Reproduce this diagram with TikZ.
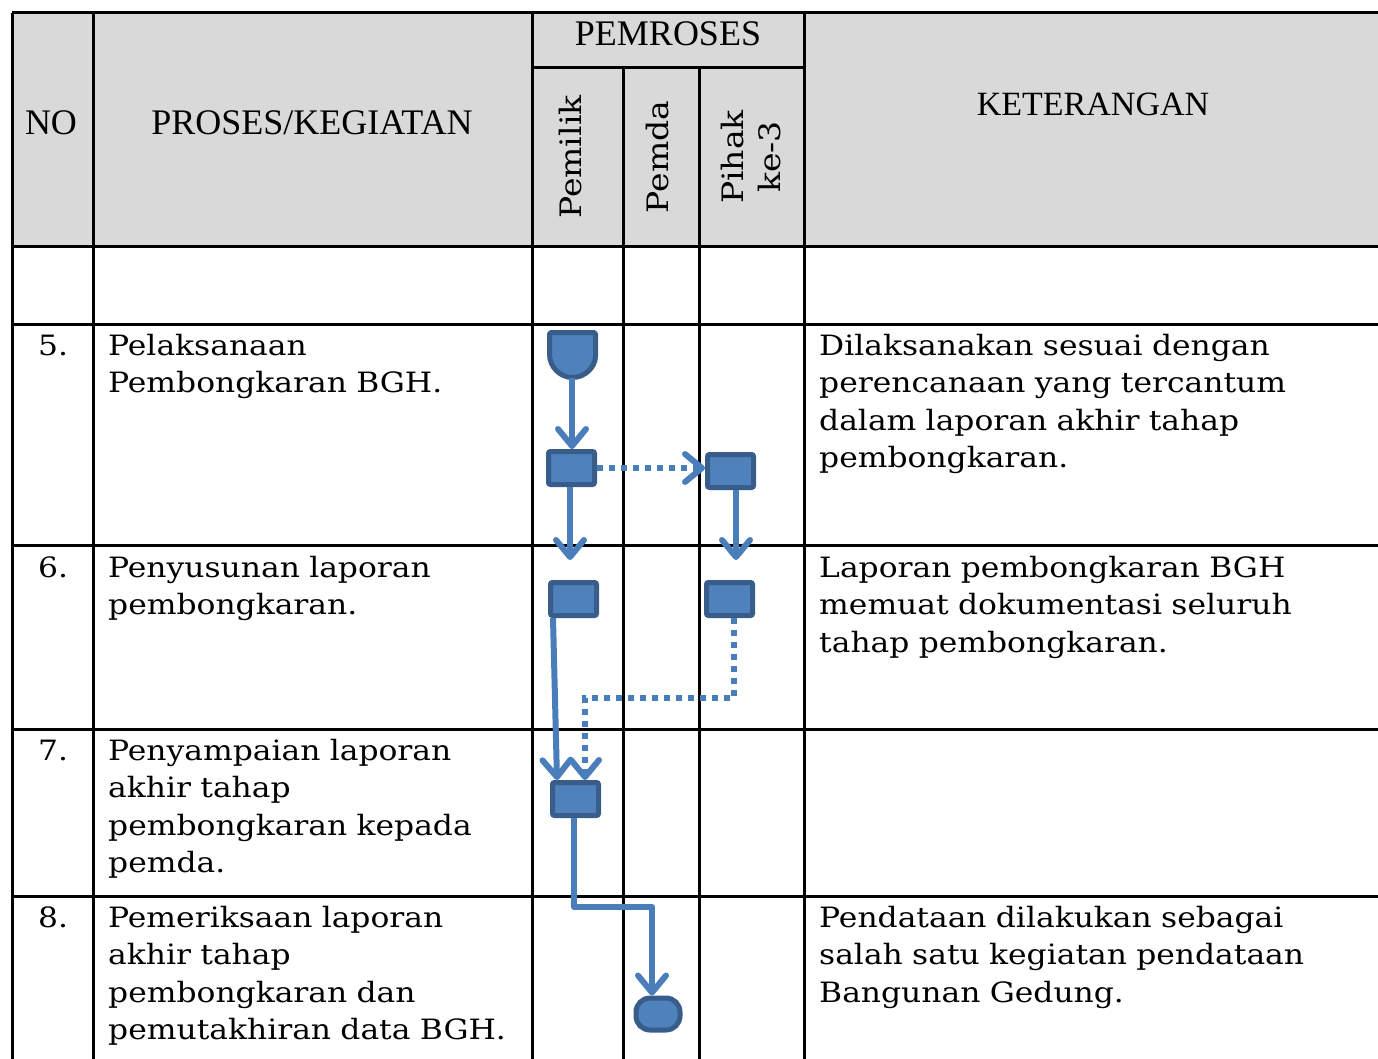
\documentclass[tikz,border=0pt]{standalone}
\usepackage{fontspec}
\setmainfont[FakeStretch=1.12]{DejaVu Serif}
\newfontfamily\hdr{Liberation Serif}
\usetikzlibrary{arrows.meta,calc}
\definecolor{hdrgrey}{HTML}{D9D9D9}
\definecolor{boxfill}{HTML}{4F81BD}
\definecolor{boxline}{HTML}{385D8A}
\definecolor{flow}{HTML}{4A7EBB}
\begin{document}
\begin{tikzpicture}[x=1pt,y=-1pt,
  grid/.style={line width=3pt,black},
  body/.style={inner sep=0pt,anchor=base west,align=left,text width=560pt,font=\fontsize{28}{37.5}\selectfont},
  hcap/.style={inner sep=0pt,font=\hdr\fontsize{36}{40}\selectfont},
  vcap/.style={inner sep=0pt,rotate=90,align=center,font=\fontsize{29.5}{37}\selectfont},
  actbox/.style={draw=boxline,fill=boxfill,line width=5pt,minimum width=46pt,minimum height=33pt,inner sep=0pt,rounded corners=2pt},
  shapefill/.style={draw=boxline,fill=boxfill,line width=5pt,line join=round},
  tipv/.style={-{Straight Barb[length=17pt,width=28pt,round]}},
  solidflow/.style={draw=flow,line width=6pt,line join=round,tipv},
  dotflow/.style={draw=flow,line width=6pt,dash pattern=on 6pt off 6pt,tipv},
  plainflow/.style={draw=flow,line width=6pt,line join=round}]
\useasboundingbox (0,0) rectangle (1378,1059);
% header background
\fill[hdrgrey] (12,13) rectangle (1378,247);
% grid
\draw[grid] (12,13) -- (1378,13);
\draw[grid] (532,68) -- (804,68);
\foreach \yy in {247,324,545,729,896} \draw[grid] (12,\yy) -- (1378,\yy);
\foreach \xx in {12,93,532,804} \draw[grid] (\xx,13) -- (\xx,1062);
\foreach \xx in {623,699} \draw[grid] (\xx,68) -- (\xx,1062);
% header texts
\node[hcap] (hno) at (51,123) {NO};
\node[hcap] (hproc) at (312,123) {PROSES/KEGIATAN};
\node[hcap] (hpem) at (668,34) {PEMROSES};
\node[hcap,font=\hdr\fontsize{34}{40}\selectfont] (hket) at (1093,104) {KETERANGAN};
\node[vcap] (hpemilik) at (570,157) {Pemilik};
\node[vcap] (hpemda) at (657,157) {Pemda};
\node[vcap] (hpihak) at (751,157) {Pihak\\ke-3};
% row texts
\node[body] (n5) at (38,355) {5.};
\node[body] (p5) at (108,355) {Pelaksanaan\\Pembongkaran BGH.};
\node[body] (k5) at (819,355) {Dilaksanakan sesuai dengan\\perencanaan yang tercantum\\dalam laporan akhir tahap\\pembongkaran.};
\node[body] (n6) at (38,577) {6.};
\node[body] (p6) at (108,577) {Penyusunan laporan\\pembongkaran.};
\node[body] (k6) at (819,577) {Laporan pembongkaran BGH\\memuat dokumentasi seluruh\\tahap pembongkaran.};
\node[body] (n7) at (38,760) {7.};
\node[body] (p7) at (108,760) {Penyampaian laporan\\akhir tahap\\pembongkaran kepada\\pemda.};
\node[body] (n8) at (38,927) {8.};
\node[body] (p8) at (108,927) {Pemeriksaan laporan\\akhir tahap\\pembongkaran dan\\pemutakhiran data BGH.};
\node[body] (k8) at (819,927) {Pendataan dilakukan sebagai\\salah satu kegiatan pendataan\\Bangunan Gedung.};
% flow shapes
\draw[shapefill,rounded corners=2pt] (549.5,354) -- (549.5,332.5) -- (595.5,332.5) -- (595.5,354)
  [sharp corners] .. controls (595.5,367) and (585,377.5) .. (572.5,377.5) .. controls (560,377.5) and (549.5,367) .. (549.5,354) -- cycle;
\coordinate (start) at (572,378);
\node[actbox] (b1) at (571.5,468) {};
\node[actbox] (b2) at (730.5,471) {};
\node[actbox] (b3) at (573.5,599) {};
\node[actbox] (b4) at (729.5,599) {};
\node[actbox] (b5) at (575.5,799) {};
\node[actbox,minimum width=44pt,minimum height=32pt,rounded corners=14pt] (term) at (658,1014) {};
% connectors
\draw[solidflow] (start) -- (start |- b1.north);
\draw[dotflow] (b1.east) -- (b1.east -| b2.west);
\coordinate (e1) at (570,560);
\coordinate (e2) at (736,560);
\draw[solidflow] (b1.south -| e1) -- (e1);
\draw[solidflow] (b2.south -| e2) -- (e2);
\draw[solidflow] ($(b3.south)+(-20.5,0)$) -- ($(b5.north)+(-18.5,0)$);
\coordinate (d1) at (734,698);
\coordinate (d2) at (585,698);
\draw[dotflow] (b4.south -| d1) -- (d1) -- (d2) -- (b5.north -| d2);
\coordinate (c1) at (574,907);
\coordinate (c2) at (652,907);
\draw[plainflow,tipv] (b5.south -| c1) -- (c1) -- (c2) -- (term.north -| c2);
\end{tikzpicture}
\end{document}
